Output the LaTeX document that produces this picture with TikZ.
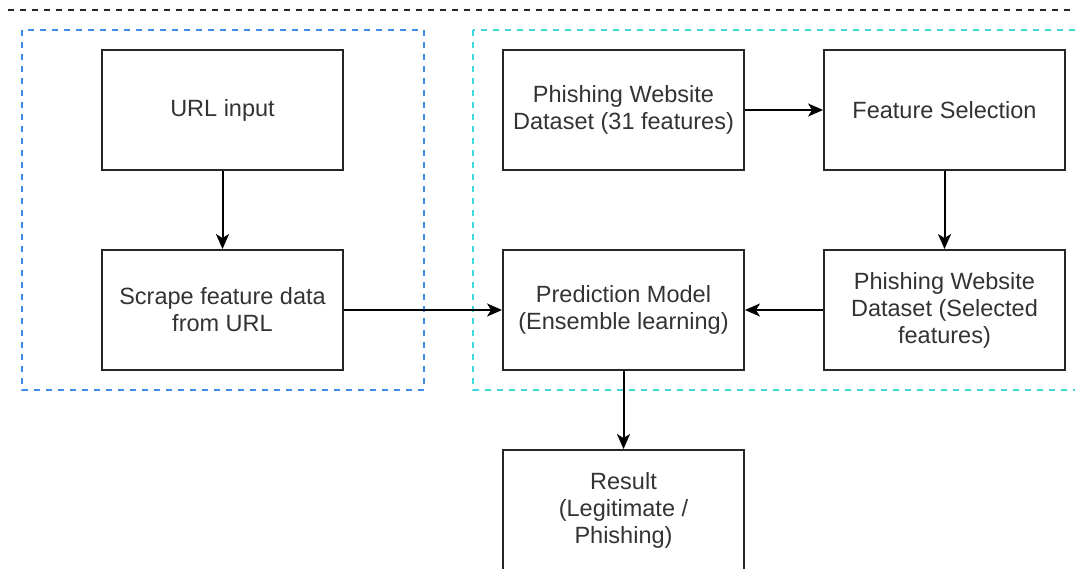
\documentclass[tikz,border=0pt]{standalone}
\usepackage{fontspec}
\setmainfont{Liberation Sans}
\usetikzlibrary{arrows.meta}
\definecolor{txtgray}{HTML}{333333}
\definecolor{frameblue}{HTML}{3C8CE6}
\definecolor{frameteal}{HTML}{3CD8DC}
\begin{document}
\begin{tikzpicture}[x=1pt,y=-1pt,
  box/.style={draw=black!85, line width=1.9pt, minimum width=241pt, minimum height=120pt,
    align=center, text=txtgray, font=\fontsize{23.5}{27}\selectfont, inner sep=0pt},
  arr/.style={-{Stealth[length=15pt,width=13pt,inset=4pt]}, line width=2pt, draw=black},
  frame/.style={line width=1.9pt, dash pattern=on 6pt off 6pt}]
\useasboundingbox (0,0) rectangle (1075,568);
\clip (0,0) rectangle (1075,568);
% top dashed line
\coordinate (topL) at (8,10);
\coordinate (topR) at (1090,10);
\draw[frame, draw=black!85] (topL) -- (topR);
% group frames
\draw[frame, draw=frameblue] (22,30) rectangle (424,390);
\draw[frame, draw=frameteal] (473,30) rectangle (1110,390);
% nodes
\node[box] (url) at (222.5,110) {URL input};
\node[box] (scrape) at (222.5,310) {Scrape feature data\\from URL};
\node[box] (pwd31) at (623.5,110) {Phishing Website\\Dataset (31 features)};
\node[box] (fs) at (944.5,110) {Feature Selection};
\node[box] (pwdsel) at (944.5,310) {Phishing Website\\Dataset (Selected\\features)};
\node[box] (pred) at (623.5,310) {Prediction Model\\(Ensemble learning)};
\node[box] (res) at (623.5,510) {Result\\(Legitimate /\\Phishing)};
% connectors
\draw[arr] (url) -- (scrape);
\draw[arr] (scrape) -- (pred);
\draw[arr] (pwd31) -- (fs);
\draw[arr] (fs) -- (pwdsel);
\draw[arr] (pwdsel) -- (pred);
\draw[arr] (pred) -- (res);
\end{tikzpicture}
\end{document}
